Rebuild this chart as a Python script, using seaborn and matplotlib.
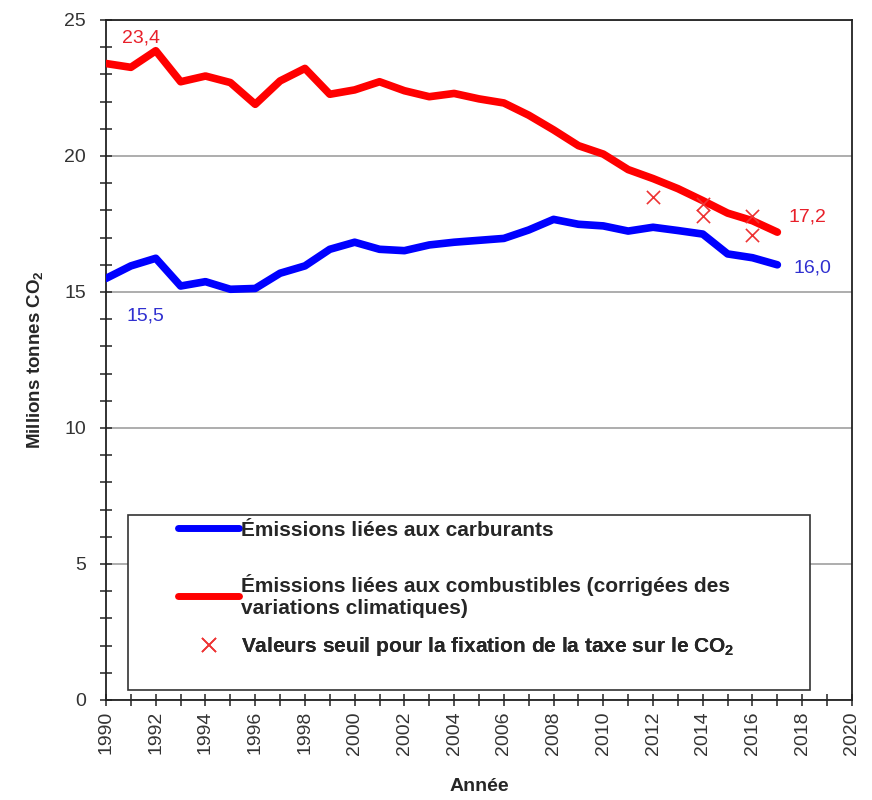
import matplotlib
matplotlib.use("Agg")
import numpy as np
import pandas as pd
import seaborn as sns
import matplotlib.pyplot as plt
from matplotlib import font_manager
from matplotlib.ticker import MultipleLocator
from matplotlib.patches import Rectangle
from matplotlib.lines import Line2D

# ---- data ----
years = list(range(1990, 2018))
carburants = [15.5, 15.96, 16.24, 15.22, 15.38, 15.1, 15.13, 15.69, 15.96, 16.57,
              16.83, 16.57, 16.52, 16.73, 16.83, 16.9, 16.97, 17.28, 17.67, 17.49,
              17.43, 17.24, 17.38, 17.26, 17.13, 16.4, 16.26, 16.0]
combustibles = [23.4, 23.26, 23.87, 22.73, 22.94, 22.7, 21.9, 22.76, 23.22, 22.27,
                22.43, 22.73, 22.4, 22.18, 22.3, 22.1, 21.95, 21.5, 20.96, 20.38,
                20.07, 19.5, 19.17, 18.8, 18.36, 17.9, 17.62, 17.2]
seuil_years = [2012, 2014, 2014, 2016, 2016]
seuil_values = [18.5, 18.25, 17.8, 17.8, 17.1]
labels = ["Émissions liées aux carburants",
          "Émissions liées aux combustibles (corrigées des\nvariations climatiques)",
          "Valeurs seuil pour la fixation de la taxe sur le CO$_\\mathbf{2}$"]

df = pd.DataFrame({"Année": years, "carburants": carburants, "combustibles": combustibles})
df_seuil = pd.DataFrame({"Année": seuil_years, "seuil": seuil_values})

sns.set_theme(style="white")
names = {f.name for f in font_manager.fontManager.ttflist}
narrow = "Liberation Sans Narrow" if "Liberation Sans Narrow" in names else "Liberation Sans"
plt.rcParams["font.family"] = ["Liberation Sans", "DejaVu Sans"]
plt.rcParams["mathtext.fontset"] = "custom"
plt.rcParams["mathtext.rm"] = narrow
plt.rcParams["mathtext.bf"] = narrow + ":bold"

BLUE = "#0000ff"
RED = "#ff0000"

fig, ax = plt.subplots(figsize=(8.72, 8.0), dpi=100)
fig.subplots_adjust(left=0.1216, right=0.977, top=0.975, bottom=0.125)

sns.lineplot(data=df, x="Année", y="carburants", ax=ax, color=BLUE, lw=5.5,
             solid_capstyle="round", solid_joinstyle="round", zorder=4)
sns.lineplot(data=df, x="Année", y="combustibles", ax=ax, color=RED, lw=5.5,
             solid_capstyle="round", solid_joinstyle="round", zorder=4)
sns.scatterplot(data=df_seuil, x="Année", y="seuil", ax=ax, marker="x", s=90,
                color="#ee3333", linewidth=1.2, zorder=5)

ax.set_xlim(1990, 2020)
ax.set_ylim(0, 25)
ax.set_xticks(range(1990, 2021, 2))
ax.xaxis.set_minor_locator(MultipleLocator(1))
ax.set_yticks(range(0, 26, 5))
ax.yaxis.set_minor_locator(MultipleLocator(1))
ax.yaxis.grid(True, which="major", color="#a0a0a0", lw=1.2, zorder=0)
ax.xaxis.grid(False)
ax.set_axisbelow(True)

ax.tick_params(which="both", direction="inout", length=9, width=1.2, color="#333333",
               bottom=True, left=True, labelsize=14, labelcolor="#333333")
ax.tick_params(axis="y", which="major", pad=10)
for lab in ax.get_xticklabels():
    lab.set_rotation(90)
for sp in ax.spines.values():
    sp.set_visible(True)
    sp.set_color("#222222")
    sp.set_linewidth(1.3)

ax.set_xlabel("Année", fontsize=14, fontweight="bold", family=narrow, labelpad=17)
ax.set_ylabel("Millions tonnes CO$_\\mathbf{2}$", fontsize=13.5, fontweight="bold",
              family=narrow, labelpad=13)

# value annotations
ax.text(1991.4, 24.35, "23,4", color="#e8202a", fontsize=14, ha="center", va="center")
ax.text(1991.6, 14.1, "15,5", color="#3030d0", fontsize=14, ha="center", va="center")
ax.text(2018.2, 17.75, "17,2", color="#e8202a", fontsize=14, ha="center", va="center")
ax.text(2018.4, 15.9, "16,0", color="#3030d0", fontsize=14, ha="center", va="center")

# legend box
ax.add_patch(Rectangle((0.0295, 0.0147), 0.914, 0.257, transform=ax.transAxes,
                       facecolor="white", edgecolor="#333333", lw=1.2, zorder=6))
handles = [Line2D([], [], color=BLUE, lw=5),
           Line2D([], [], color=RED, lw=5),
           Line2D([], [], color="#ee3333", marker="x", ls="none", ms=10, mew=1.2)]
centers = [0.25, 0.153, 0.078]
for h, lab, cy in zip(handles, labels, centers):
    leg = ax.legend([h], [lab], loc="center left", bbox_to_anchor=(0.097, cy),
                    frameon=False, borderpad=0, borderaxespad=0, handlelength=2.9,
                    handletextpad=0.1,
                    prop={"family": narrow, "weight": "bold", "size": 15})
    leg.set_zorder(7)
    ax.add_artist(leg)

fig.savefig("out.png", dpi=100)
